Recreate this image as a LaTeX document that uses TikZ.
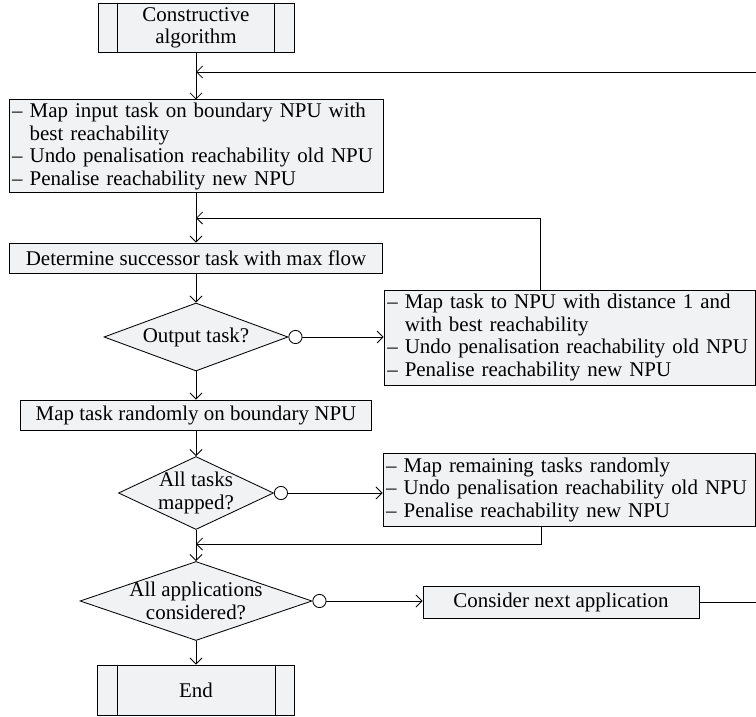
\documentclass[tikz,border=0pt]{standalone}
\usepackage{fontspec}
\setmainfont{Liberation Serif}
\usetikzlibrary{shapes.geometric,arrows.meta,calc}
\definecolor{boxgray}{RGB}{241,242,244}
\tikzset{
  every node/.style={font=\fontsize{14.9pt}{16pt}\selectfont},
  block/.style={draw, fill=boxgray, inner xsep=0.08cm, inner ysep=0.05cm},
  listbox/.style={block, align=left},
  term/.style={block, align=center},
  decision/.style={diamond, draw, fill=boxgray, aspect=2.5, inner sep=-2mm, align=center},
  ring/.style={circle, draw, fill=white, minimum size=0.33cm, inner sep=0pt},
  flow/.style={-{Straight Barb[length=1.5mm,width=3mm]}}
}
\begin{document}
\begin{tikzpicture}[line width=0.6pt]
\useasboundingbox (0,0) rectangle (18.9,-17.925);
\node[term, minimum width=4.9cm, minimum height=1.225cm] (start) at (4.9,-0.69) {Constructive\\algorithm};
\draw ($(start.north west)+(0.5,0)$) -- ($(start.south west)+(0.5,0)$);
\draw ($(start.north east)+(-0.5,0)$) -- ($(start.south east)+(-0.5,0)$);
\node[listbox, text width=9.19cm, minimum height=2.325cm] (mapin) at (4.9,-3.66) {-- Map input task on boundary NPU with\\\hphantom{--}\ best reachability\\-- Undo penalisation reachability old NPU\\-- Penalise reachability new NPU};
\node[term, minimum width=9.325cm, minimum height=0.75cm] (succ) at (4.9,-6.45) {Determine successor task with max flow};
\node[decision, minimum width=4.6cm, minimum height=1.7cm] (out) at (4.9,-8.425) {Output task?};
\node[listbox, text width=9.115cm, minimum height=2.375cm] (mapnb) at (14.24,-8.44) {-- Map task to NPU with distance 1 and\\\hphantom{--}\ with best reachability\\-- Undo penalisation reachability old NPU\\-- Penalise reachability new NPU};
\node[term, minimum width=8.775cm, minimum height=0.75cm] (rand) at (4.9,-10.375) {Map task randomly on boundary NPU};
\node[decision, minimum width=3.875cm, minimum height=1.825cm] (alltasks) at (4.9,-12.325) {All tasks\\mapped?};
\node[listbox, text width=9.14cm, minimum height=1.825cm] (remain) at (14.225,-12.24) {-- Map remaining tasks randomly\\-- Undo penalisation reachability old NPU\\-- Penalise reachability new NPU};
\node[decision, minimum width=5.8cm, minimum height=1.975cm] (allapps) at (4.9,-15.025) {All applications\\considered?};
\node[term, minimum width=6.9cm, minimum height=0.8cm] (next) at (14.025,-15.05) {Consider next application};
\node[term, minimum width=4.925cm, minimum height=1.25cm] (stop) at (4.9,-17.25) {End};
\draw ($(stop.north west)+(0.5,0)$) -- ($(stop.south west)+(0.5,0)$);
\draw ($(stop.north east)+(-0.5,0)$) -- ($(stop.south east)+(-0.5,0)$);
\node[ring, anchor=west] (r1) at (out.east) {};
\node[ring, anchor=west] (r2) at (alltasks.east) {};
\node[ring, anchor=west] (r3) at (allapps.east) {};
\coordinate (j1) at (4.9,-1.8);
\coordinate (j2) at (4.9,-5.45);
\coordinate (j3) at (4.9,-13.6);
\coordinate (k2) at (13.5,0);
\coordinate (k3) at (13.525,0);
\coordinate (edge) at (18.925,0);
\draw[flow] (start) -- (mapin);
\draw[flow] (mapin) -- (succ);
\draw[flow] (succ) -- (out);
\draw[flow] (out) -- (rand);
\draw[flow] (rand) -- (alltasks);
\draw[flow] (alltasks) -- (allapps);
\draw[flow] (allapps) -- (stop);
\draw[flow] (r1) -- (r1 -| mapnb.west);
\draw[flow] (r2) -- (r2 -| remain.west);
\draw[flow] (r3) -- (r3 -| next.west);
\draw[flow] (mapnb.north -| k2) |- (j2);
\draw[flow] (remain.south -| k3) |- (j3);
\draw[flow] (next) -- (next -| edge) |- (j1);
\end{tikzpicture}
\end{document}
